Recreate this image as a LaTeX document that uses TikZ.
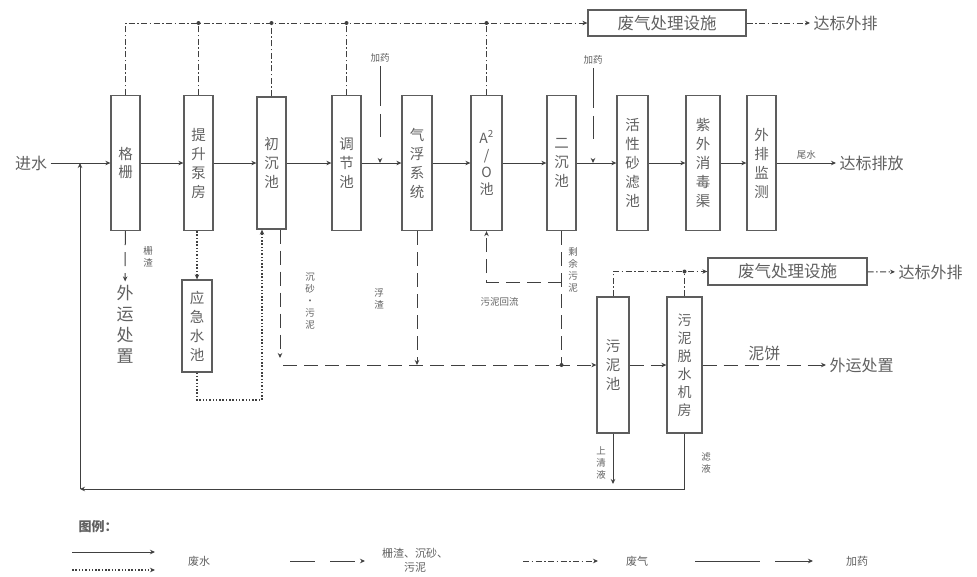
\documentclass[tikz,border=0pt]{standalone}
\usepackage{fontspec}
\setmainfont{Noto Sans CJK SC}
\usetikzlibrary{arrows.meta}
\definecolor{linec}{HTML}{404040}
\definecolor{txtc}{HTML}{606060}

\begin{document}
\begin{tikzpicture}[x=1pt,y=-1pt,>={Stealth[length=5pt,width=4.5pt]},
  every node/.style={text=txtc},
  box/.style={draw=linec!85,line width=1.3pt,minimum width=29pt,minimum height=135pt,inner sep=0pt,align=center,font=\fontsize{14.5}{19}\selectfont},
  hbox/.style={draw=linec!85,line width=1.3pt,minimum width=158pt,minimum height=26pt,inner sep=0pt,font=\fontsize{16.5}{18}\selectfont},
  lbl/.style={align=center,font=\fontsize{9.5}{12}\selectfont},
  big/.style={align=center,font=\fontsize{16}{18}\selectfont},
  water/.style={draw=linec,line width=0.9pt,->},
  sludge/.style={draw=linec,line width=1pt,dash pattern=on 14pt off 7pt},
  gas/.style={draw=linec,line width=1pt,dash pattern=on 6pt off 2.5pt on 1.5pt off 2.5pt},
  emerg/.style={draw=linec,line width=1.5pt,dash pattern=on 1.5pt off 1.8pt},
  dose/.style={draw=linec,line width=0.9pt,dash pattern=on 40pt off 8pt on 23pt off 30pt},
  dot/.style={circle,fill=linec,inner sep=0pt,minimum size=4pt}]
\useasboundingbox (0,0) rectangle (977,576);

% main line
\node[big] (jin) at (31,163) {进水};
\node[box] (gs) at (125.5,163) {格\\栅};
\node[box] (tb) at (198.5,163) {提\\升\\泵\\房};
\node[box,minimum height=132pt] (cc) at (271.5,163) {初\\沉\\池};
\node[box] (tj) at (346.5,163) {调\\节\\池};
\node[box,minimum width=30pt] (qf) at (417,163) {气\\浮\\系\\统};
\node[box,minimum width=31pt,font=\fontsize{14}{17}\selectfont] (ao) at (486.5,163) {A\textsuperscript{2}\\/\\O\\池};
\node[box] (ec) at (561.5,163) {二\\沉\\池};
\node[box,minimum width=31pt] (sl) at (632.5,163) {活\\性\\砂\\滤\\池};
\node[box,minimum width=34pt] (zw) at (703,163) {紫\\外\\消\\毒\\渠};
\node[box] (wp) at (761.5,163) {外\\排\\监\\测};
\node[big,anchor=west] (pf) at (836,163) {达标排放};
\coordinate (j0) at (80,163);
\draw[water] (jin) -- (gs);
\foreach \a/\b in {gs/tb,tb/cc,cc/tj,tj/qf,qf/ao,ao/ec,ec/sl,sl/zw,zw/wp}
  \draw[water] (\a) -- (\b);
\draw[water] (wp) -- (pf) node[lbl,midway,above] {尾水};

% dosing
\node[lbl] (jy1) at (380,58) {加药};
\node[lbl] (jy2) at (593,60) {加药};
\coordinate (d1) at (380,163);
\coordinate (d2) at (593,163);
\draw[dose,->] (jy1) -- (d1);
\draw[dose,->] (jy2) -- (d2);

% off-gas
\node[hbox] (fq1) at (667,23) {废气处理设施};
\node[big,anchor=west] (db1) at (810,23) {达标外排};
\draw[gas,->] (gs.north) |- (fq1.west);
\foreach \n in {tb,cc,tj,ao}
  \draw[gas] (\n.north) -- (\n.north |- fq1.west) node[dot]{};
\draw[gas,->] (fq1) -- (db1);

% screenings and emergency pool
\node[big,font=\fontsize{17}{21}\selectfont] (wy1) at (125,324) {外\\运\\处\\置};
\node[lbl] at (148,257) {栅\\渣};
\draw[sludge,->] (gs) -- (wy1);
\node[box,minimum width=30pt,minimum height=92pt] (yj) at (197,326) {应\\急\\水\\池};
\coordinate (e1) at (262,400);
\draw[emerg,->] (tb.south -| yj.north) -- (yj.north);
\draw[emerg,->] (yj.south) |- (e1) -- (e1 |- cc.south);

% sludge
\node[box,minimum width=32pt,minimum height=136pt] (wn) at (613,365) {污\\泥\\池};
\node[box,minimum width=35pt,minimum height=136pt,font=\fontsize{14}{18}\selectfont] (ts) at (684.5,365) {污\\泥\\脱\\水\\机\\房};
\coordinate (s0) at (283,365);
\coordinate (s1) at (280,358);
\coordinate (r1) at (561.5,282);
\draw[sludge,->] (cc.south -| s1) -- (s1);
\draw[sludge,->] (s0) -- (wn);
\draw[sludge,->] (qf) -- (qf |- s0);
\draw[sludge] (ec) -- (ec |- s0) node[dot]{};
\draw[sludge,->] (r1) -| (ao);
\node[lbl] at (310,301) {沉\\砂\\·\\污\\泥};
\node[lbl] at (379,299) {浮\\渣};
\node[lbl] at (573,270) {剩\\余\\污\\泥};
\node[lbl,anchor=west] at (477,302) {污泥回流};
\node[big,anchor=west] (wy2) at (826,365) {外运处置};
\draw[sludge,->] (wn) -- (ts);
\draw[sludge,->] (ts) -- (wy2) node[midway,above,big] {泥饼};

% sludge off-gas
\node[hbox,minimum width=159pt,minimum height=27pt] (fq2) at (787.5,271.5) {废气处理设施};
\node[big,anchor=west] (db2) at (895,272) {达标外排};
\draw[gas,->] (wn.north) |- (fq2.west);
\draw[gas] (ts.north) -- (ts.north |- fq2.west) node[dot]{};
\draw[gas,->] (fq2) -- (db2);

% return water
\coordinate (b1) at (613,484);
\coordinate (b2) at (80,489);
\draw[water] (wn) -- (b1);
\draw[water] (ts) |- (b2);
\draw[water] (b2) -- (j0);
\node[lbl] at (601,463) {上\\清\\液};
\node[lbl] at (706,463) {滤\\液};

% legend
\node[font=\fontsize{13}{14}\selectfont\bfseries] (tl) at (98,527) {图例：};
\coordinate (la) at (72,552);
\coordinate (lb) at (72,570);
\coordinate (lc) at (290,561);
\coordinate (ld) at (523,561);
\coordinate (le) at (695,561);
\draw[water] (la) -- ++(83,0);
\draw[emerg,->] (lb) -- ++(83,0);
\draw[sludge,dash pattern=on 25pt off 15pt,->] (lc) -- ++(75,0);
\draw[gas,->] (ld) -- ++(75,0);
\draw[dose,dash pattern=on 65pt off 15pt on 40pt,->] (le) -- ++(118,0);
\node[lbl,font=\fontsize{11}{12}\selectfont] at (199,561) {废水};
\node[lbl,font=\fontsize{11}{14}\selectfont] at (415,560) {栅渣、沉砂、\\污泥};
\node[lbl,font=\fontsize{11}{12}\selectfont] at (637,561) {废气};
\node[lbl,font=\fontsize{11}{12}\selectfont] at (857,561) {加药};
\end{tikzpicture}
\end{document}
